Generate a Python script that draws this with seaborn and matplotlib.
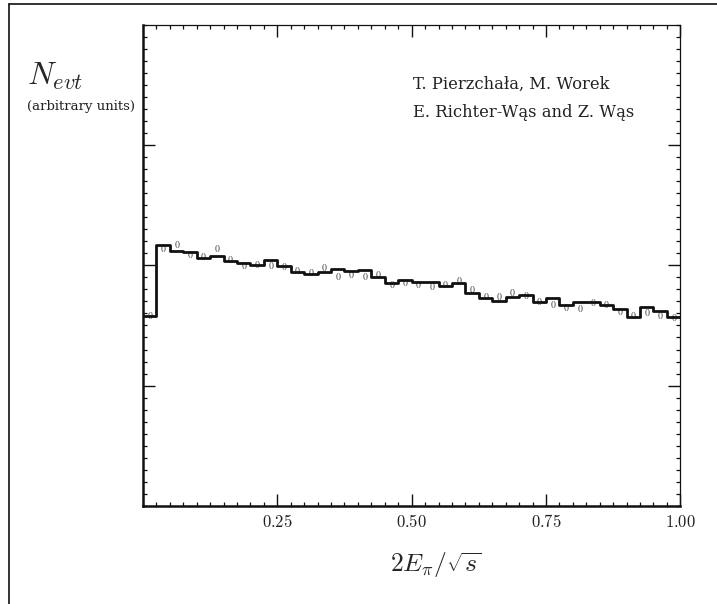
import numpy as np
import pandas as pd
import matplotlib.pyplot as plt
import seaborn as sns
from matplotlib.lines import Line2D
from matplotlib.ticker import MultipleLocator, FixedLocator, NullFormatter

# 40 bins on 0..1 (bin width 0.025)
n_bins = 40
bin_edges = np.linspace(0.0, 1.0, n_bins + 1)
bin_centers = 0.5 * (bin_edges[:-1] + bin_edges[1:])

# histogram heights (arbitrary units)
hist_vals = [1.578, 2.172, 2.116, 2.111, 2.061, 2.077, 2.033, 2.019, 2.002, 2.047,
             1.994, 1.944, 1.928, 1.942, 1.969, 1.953, 1.961, 1.900, 1.853, 1.878,
             1.861, 1.861, 1.828, 1.853, 1.770, 1.728, 1.701, 1.736, 1.756, 1.695,
             1.728, 1.667, 1.695, 1.695, 1.670, 1.637, 1.568, 1.653, 1.620, 1.570]

# small circle points
point_vals = [1.587, 2.141, 2.177, 2.097, 2.077, 2.141, 2.050, 2.000, 2.014, 2.000,
              1.994, 1.961, 1.944, 1.983, 1.911, 1.928, 1.911, 1.928, 1.842, 1.859,
              1.842, 1.828, 1.845, 1.875, 1.803, 1.742, 1.745, 1.778, 1.756, 1.706,
              1.678, 1.657, 1.645, 1.695, 1.681, 1.623, 1.587, 1.612, 1.587, 1.570]

x_ticks = [0.25, 0.50, 0.75, 1.00]
x_ticklabels = ["0.25", "0.50", "0.75", "1.00"]

df = pd.DataFrame({"x": bin_centers, "h": hist_vals, "p": point_vals})

sns.set_style("white")
plt.rcParams["mathtext.fontset"] = "cm"
plt.rcParams["font.family"] = ["DejaVu Serif"]

fig = plt.figure(figsize=(7.17, 6.04), dpi=100)
ax = fig.add_axes([0.1994, 0.1623, 0.7495, 0.7971])

sns.histplot(data=df, x="x", weights="h", bins=n_bins, binrange=(0, 1),
             element="step", fill=False, color="#111111", linewidth=2.0, ax=ax)
sns.scatterplot(data=df, x="x", y="p", marker="$0$", s=24, color="#3a3a3a",
                linewidth=0, ax=ax)

ax.set_xlim(0, 1)
ax.set_ylim(0, 4)
ax.set_xlabel("")
ax.set_ylabel("")

ax.xaxis.set_major_locator(FixedLocator(x_ticks))
ax.set_xticklabels(["$" + t + "$" for t in x_ticklabels], fontsize=12)
ax.xaxis.set_minor_locator(MultipleLocator(0.025))
ax.yaxis.set_major_locator(FixedLocator([1, 2, 3]))
ax.yaxis.set_minor_locator(MultipleLocator(0.1))
ax.yaxis.set_major_formatter(NullFormatter())

ax.tick_params(which="both", direction="in", top=True, right=True,
               bottom=True, left=True, color="#111111")
ax.tick_params(which="major", length=8.5, width=1.0)
ax.tick_params(which="minor", length=3.2, width=0.9)
ax.tick_params(axis="x", which="major", pad=6, labelcolor="#222222")

for side in ["left", "bottom"]:
    ax.spines[side].set_linewidth(1.8)
    ax.spines[side].set_color("#111111")
for side in ["top", "right"]:
    ax.spines[side].set_linewidth(0.9)
    ax.spines[side].set_color("#111111")

# labels
fig.text(0.038, 0.874, r"$N_{evt}$", fontsize=23, ha="left", va="center")
fig.text(0.038, 0.823, r"(arbitrary units)", fontsize=9.5, ha="left",
         va="center", family="DejaVu Serif", color="#222222")
fig.text(0.608, 0.0646, r"$2E_\pi/\sqrt{s}$", fontsize=18.5, ha="center",
         va="center")
ax.text(0.502, 0.876, "T. Pierzchała, M. Worek", transform=ax.transAxes,
        fontsize=11.8, ha="left", va="center", family="DejaVu Serif",
        color="#222222")
ax.text(0.502, 0.818, "E. Richter-Wąs and Z. Wąs", transform=ax.transAxes,
        fontsize=11.8, ha="left", va="center", family="DejaVu Serif",
        color="#222222")

# outer frame (top and left edges)
fig.add_artist(Line2D([9 / 717, 9 / 717], [0, 1 - 4 / 604],
                      transform=fig.transFigure, color="#111111", lw=1.2))
fig.add_artist(Line2D([9 / 717, 1], [1 - 4 / 604, 1 - 4 / 604],
                      transform=fig.transFigure, color="#111111", lw=1.2))

fig.savefig("out.png", dpi=100, facecolor="white")
